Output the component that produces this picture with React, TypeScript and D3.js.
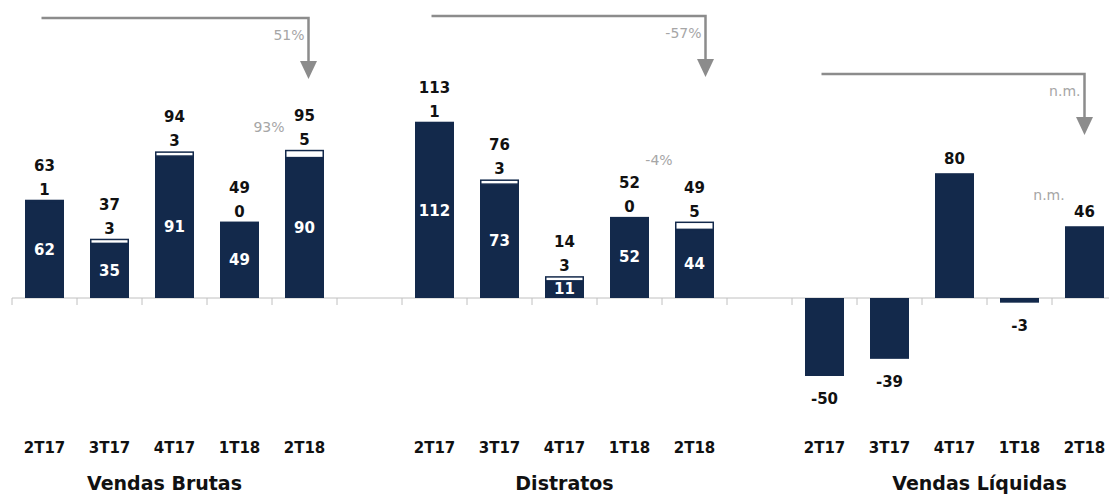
import React from "react";
import * as d3 from "d3";

// ---- data ----
const categories = ["2T17", "3T17", "4T17", "1T18", "2T18"];
const groupTitles = ["Vendas Brutas", "Distratos", "Vendas Líquidas"];

const brutasBase = [62, 35, 91, 49, 90];
const brutasTop = [1, 3, 3, 0, 5];
const brutasTotal = [63, 37, 94, 49, 95];

const distratosBase = [112, 73, 11, 52, 44];
const distratosTop = [1, 3, 3, 0, 5];
const distratosTotal = [113, 76, 14, 52, 49];

const liquidasValues = [-50, -39, 80, -3, 46];

const yoyLabels = ["51%", "-57%", "n.m."];
const qoqLabels = ["93%", "-4%", "n.m."];

// ---- layout / style ----
const W = 1109;
const H = 502;
const NAVY = "#13294b";
const GRAY = "#8c8c8c";
const LIGHT = "#a6a6a6";
const FONT = "'DejaVu Sans', Verdana, sans-serif";

const arrowLevel = [18, 16, 74]; // px y of arrow horizontal line
const arrowEndShift = [4, 11, 0];
const titleShift = [-10, 0, 25];
const qoqY = [132, 165, 200];

export default function App() {
  const nSlots = 17;
  const x = d3
    .scaleBand<number>()
    .domain(d3.range(nSlots))
    .range([12, 1117])
    .paddingInner(0.4)
    .paddingOuter(0.2);
  const bw = x.bandwidth();
  const half = (x.step() * x.paddingInner()) / 2;
  const y = d3.scaleLinear().domain([-80, 180]).range([298 + 80 * 1.56, 298 - 180 * 1.56]);
  const y0 = y(0);
  const slot = (g: number, i: number) => g * 6 + i;
  const cx = (g: number, i: number) => (x(slot(g, i)) as number) + bw / 2;

  const stacked = [
    { base: brutasBase, top: brutasTop, total: brutasTotal },
    { base: distratosBase, top: distratosTop, total: distratosTotal },
  ];

  const elems: React.ReactNode[] = [];

  // axis line + ticks
  elems.push(
    <line key="axis" x1={12} x2={W} y1={y0} y2={y0} stroke="#c0c0c0" strokeWidth={1} />
  );
  d3.range(nSlots + 1).forEach((i) => {
    const bx = i < nSlots ? (x(i) as number) - half : (x(nSlots - 1) as number) + bw + half;
    elems.push(
      <line key={"t" + i} x1={bx} x2={bx} y1={y0} y2={y0 + 7} stroke="#c0c0c0" strokeWidth={1} />
    );
  });

  // stacked groups
  stacked.forEach((s, g) => {
    categories.forEach((c, i) => {
      const x0 = x(slot(g, i)) as number;
      const b = s.base[i];
      const t = s.top[i];
      const yb = y(b);
      const yt = y(b + t);
      elems.push(
        <rect key={`b${g}${i}`} x={x0} y={yb} width={bw} height={y0 - yb} fill={NAVY} />
      );
      if (t > 0) {
        elems.push(
          <rect
            key={`w${g}${i}`}
            x={x0 + 0.75}
            y={yt + 0.75}
            width={bw - 1.5}
            height={Math.max(yb - yt - 0.75, 0)}
            fill="#fff"
            stroke={NAVY}
            strokeWidth={1.5}
          />
        );
      }
      elems.push(
        <text
          key={`in${g}${i}`}
          x={cx(g, i)}
          y={(yb + y0) / 2 + 5}
          textAnchor="middle"
          fontFamily={FONT}
          fontWeight="bold"
          fontSize={15}
          fill="#fff"
        >
          {b}
        </text>
      );
      elems.push(
        <text
          key={`tp${g}${i}`}
          x={cx(g, i)}
          y={yt - 5}
          textAnchor="middle"
          fontFamily={FONT}
          fontWeight="bold"
          fontSize={15}
          fill="#111"
        >
          {t}
        </text>
      );
      elems.push(
        <text
          key={`tt${g}${i}`}
          x={cx(g, i)}
          y={yt - 29}
          textAnchor="middle"
          fontFamily={FONT}
          fontWeight="bold"
          fontSize={15}
          fill="#111"
        >
          {s.total[i]}
        </text>
      );
    });
  });

  // net sales
  liquidasValues.forEach((v, i) => {
    const x0 = x(slot(2, i)) as number;
    const yv = y(v);
    elems.push(
      <rect
        key={`l${i}`}
        x={x0}
        y={Math.min(yv, y0)}
        width={bw}
        height={Math.abs(yv - y0)}
        fill={NAVY}
      />
    );
    elems.push(
      <text
        key={`ll${i}`}
        x={cx(2, i)}
        y={v >= 0 ? yv - 9 : yv + 28}
        textAnchor="middle"
        fontFamily={FONT}
        fontWeight="bold"
        fontSize={15}
        fill="#111"
      >
        {v}
      </text>
    );
  });

  // category labels and titles
  groupTitles.forEach((title, g) => {
    categories.forEach((c, i) => {
      elems.push(
        <text
          key={`c${g}${i}`}
          x={cx(g, i)}
          y={453}
          textAnchor="middle"
          fontFamily={FONT}
          fontWeight="bold"
          fontSize={15}
          fill="#111"
        >
          {c}
        </text>
      );
    });
    elems.push(
      <text
        key={`g${g}`}
        x={cx(g, 2) + titleShift[g]}
        y={490}
        textAnchor="middle"
        fontFamily={FONT}
        fontWeight="bold"
        fontSize={19}
        fill="#111"
      >
        {title}
      </text>
    );

    // year-over-year arrow
    const ay = arrowLevel[g];
    const xs = cx(g, 0) - 3;
    const xe = cx(g, 4) + arrowEndShift[g];
    const tipY = ay + 61;
    elems.push(
      <path
        key={`a${g}`}
        d={`M${xs},${ay}H${xe}V${tipY - 18}`}
        fill="none"
        stroke={GRAY}
        strokeWidth={2.5}
      />
    );
    elems.push(
      <path
        key={`ah${g}`}
        d={`M${xe - 8.5},${tipY - 18}L${xe + 8.5},${tipY - 18}L${xe},${tipY}Z`}
        fill={GRAY}
      />
    );
    elems.push(
      <text
        key={`yoy${g}`}
        x={xe - 4}
        y={ay + 22}
        textAnchor="end"
        fontFamily={FONT}
        fontSize={14}
        fill={LIGHT}
      >
        {yoyLabels[g]}
      </text>
    );
    // quarter-over-quarter label
    elems.push(
      <text
        key={`qoq${g}`}
        x={(x(slot(g, 4)) as number) - half - 3}
        y={qoqY[g]}
        textAnchor="middle"
        fontFamily={FONT}
        fontSize={14}
        fill={LIGHT}
      >
        {qoqLabels[g]}
      </text>
    );
  });

  return (
    <svg
      width={W}
      height={H}
      style={{ position: "absolute", left: 0, top: 0, background: "#fff" }}
    >
      <rect width={W} height={H} fill="#fff" />
      {elems}
    </svg>
  );
}
